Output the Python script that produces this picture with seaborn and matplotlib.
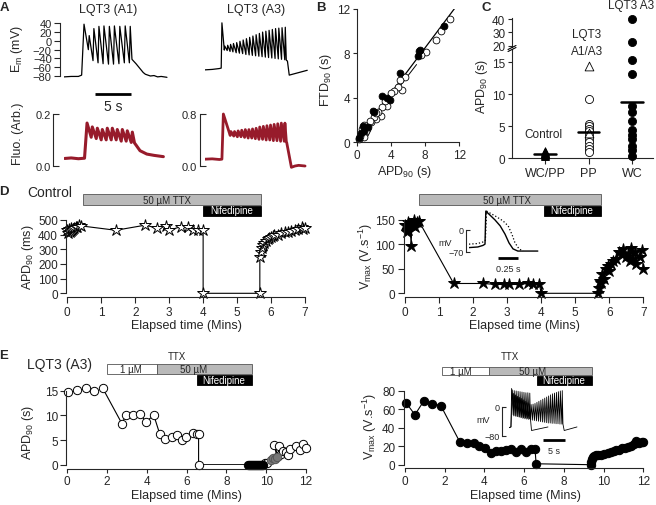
import numpy as np
import seaborn as sns
import matplotlib.pyplot as plt
from matplotlib.lines import Line2D
from matplotlib.patches import Rectangle

# ---------------- data ----------------
# A: membrane potential, LQT3 (A1)  (time s, mV)
a1_start_t = [0.0, 1.0, 2.0, 2.45]
a1_start_v = [-82, -81, -81, -78]
a1_pk_t = [2.78, 3.5, 4.15, 4.85, 5.55, 6.3, 7.0, 7.75, 8.5, 9.2]
a1_pk_v = [38, 12, 28, 33, 34, 33, 34, 33, 34, 33]
a1_tr_v = [-20, -45, -50, -52, -53, -53, -52, -50, -50, -42]
a1_end_t = [9.55, 10.0, 10.5, 11.0, 11.3, 12.0, 12.5, 13.0, 13.5, 14.3]
a1_end_v = [-44, -52, -62, -72, -76, -80, -79, -82, -81, -83]

# A: membrane potential, LQT3 (A3)
a3_start_t = [0.0, 1.0, 2.0, 2.25]
a3_start_v = [-66, -65, -63, -62]
a3_pk_t = [2.35, 2.75, 3.15, 3.55, 3.95, 4.4, 4.85, 5.3, 5.75, 6.2, 6.65,
           7.1, 7.55, 8.0, 8.45, 8.9, 9.35, 9.8, 10.25, 10.7, 11.15]
a3_pk_v = [41, -12, -10, -8, -6, -4, -1, 2, 5, 8, 11, 14, 17, 20, 22, 24,
           26, 28, 29, 30, 31]
a3_tr_v = [-21, -22, -24, -25, -27, -28, -29, -31, -32, -33, -34, -35, -36,
           -37, -38, -39, -40, -41, -42, -43, -44]
a3_end_t = [11.45, 11.7, 14.2]
a3_end_v = [-46, -78, -67]

# A: fluorescence
f1_start_t = [0.1, 1.0, 2.0, 2.85]
f1_start_v = [0.028, 0.030, 0.027, 0.029]
f1_pk_t = [3.2, 3.93, 4.63, 5.32, 6.01, 6.71, 7.4, 8.1, 8.79, 9.49]
f1_pk_v = [0.165, 0.15, 0.145, 0.14, 0.145, 0.145, 0.14, 0.14, 0.135, 0.13]
f1_tr_v = [0.11, 0.105, 0.1, 0.1, 0.1, 0.1, 0.095, 0.095, 0.09, 0.088]
f1_end_t = [10.0, 10.56, 11.5, 12.5, 13.8]
f1_end_v = [0.08, 0.058, 0.045, 0.04, 0.035]

f3_start_t = [0.0, 1.0, 2.0, 2.35]
f3_start_v = [0.105, 0.11, 0.1, 0.105]
f3_pk_t = [2.55, 3.6, 4.1, 4.6, 5.1, 5.6, 6.1, 6.6, 7.1, 7.6, 8.1, 8.6,
           9.1, 9.6, 10.1, 10.6, 11.1]
f3_pk_v = [0.8, 0.53, 0.53, 0.54, 0.55, 0.56, 0.56, 0.57, 0.58, 0.6, 0.61,
           0.62, 0.63, 0.64, 0.65, 0.66, 0.66]
f3_tr_v = [0.47, 0.46, 0.45, 0.45, 0.44, 0.43, 0.43, 0.42, 0.41, 0.41, 0.40,
           0.40, 0.39, 0.39, 0.38, 0.38, 0.37]
f3_end_t = [11.35, 12.0, 12.5, 13.0, 13.9]
f3_end_v = [0.36, -0.02, 0.0, 0.01, 0.0]

# B: APD90 vs FTD90 (s)
b_fill_x = [10.2, 7.2, 7.3, 7.4, 5.1, 3.0, 3.5, 1.9, 2.0, 1.3, 0.9, 0.5, 0.3, 0.7, 3.9]
b_fill_y = [10.5, 7.8, 8.2, 8.3, 6.2, 4.2, 4.0, 2.8, 2.7, 1.4, 1.0, 0.8, 0.4, 1.5, 3.8]
b_open_x = [10.9, 9.9, 9.3, 8.1, 7.5, 5.7, 5.3, 5.1, 4.8, 4.4, 4.0, 3.6, 3.3, 3.0,
            2.8, 2.5, 2.3, 2.0, 1.7, 1.5, 1.2, 1.0, 0.8, 0.6, 0.4, 0.3, 0.9, 1.1, 2.2]
b_open_y = [11.1, 10.0, 9.2, 8.1, 7.9, 5.9, 4.7, 5.6, 5.0, 4.6, 4.4, 3.3, 3.7, 3.2,
            2.4, 2.7, 2.1, 2.3, 1.8, 1.9, 1.2, 0.8, 0.5, 1.2, 0.6, 0.3, 1.6, 1.0, 2.6]
b_fit1_x = [0.0, 11.5]
b_fit1_y = [0.3, 12.1]
b_fit2_x = [0.0, 7.0]
b_fit2_y = [0.0, 7.0]

# C: APD90 by recording mode (s)
c_groups = ['WC/PP', 'PP', 'WC']
c_ctrl = [0.3, 0.5, 0.6, 0.7, 0.8, 0.9, 1.0, 1.2, 0.4, 0.6]
c_pp_circ = [9.3, 5.4, 5.0, 4.6, 4.3, 3.7, 3.0, 2.6, 2.0, 1.5, 1.0]
c_pp_tri = [14.5, 4.0]
c_wc = [40, 23, 15.3, 13.2, 8.2, 7.2, 5.8, 4.5, 3.6, 3.0, 1.9, 1.3, 0.4]
c_means = [0.65, 4.05, 8.75]

# D: control, elapsed time (min)
d_apd_t = [0.0, 0.02, 0.05, 0.08, 0.1, 0.12, 0.15, 0.18, 0.2, 0.25, 0.3, 0.35, 0.4,
           1.43, 2.3, 2.63, 2.9, 3.0, 3.35, 3.55, 3.7, 3.85, 4.0, 4.0, 5.67, 5.67,
           5.7, 5.72, 5.75, 5.8, 5.85, 5.9, 5.95, 6.0, 6.05, 6.1, 6.2, 6.3, 6.4,
           6.5, 6.6, 6.7, 6.8, 6.9, 6.95, 7.0]
d_apd_v = [430, 410, 440, 420, 425, 445, 430, 440, 445, 450, 455, 465, 460,
           430, 465, 445, 460, 430, 455, 450, 435, 430, 435, 0, 0, 245,
           280, 310, 330, 345, 360, 370, 375, 385, 390, 395, 400, 410, 415,
           420, 425, 430, 440, 450, 440, 445]
d_vmax_t = [0.0, 0.05, 0.08, 0.1, 0.15, 0.18, 0.2, 0.25, 0.3, 0.35, 0.4,
            1.43, 2.3, 2.65, 2.9, 3.05, 3.35, 3.6, 3.75, 3.95, 4.0, 5.67,
            5.7, 5.72, 5.75, 5.8, 5.85, 5.9, 5.95, 6.0, 6.05, 6.1, 6.2, 6.3,
            6.35, 6.4, 6.5, 6.55, 6.6, 6.65, 6.7, 6.75, 6.8, 6.9, 6.95, 7.0]
d_vmax_v = [140, 125, 145, 130, 140, 97, 140, 150, 135, 145, 148,
            20, 20, 18, 18, 18, 18, 20, 18, 18, 0, 0,
            10, 25, 20, 40, 30, 50, 55, 45, 60, 65, 70, 85,
            80, 90, 75, 80, 65, 93, 70, 85, 60, 75, 88, 50]
d_ttx = [0.45, 5.69]
d_nif = [4.0, 5.69]
d_ttx_r = [0.42, 5.75]
d_nif_r = [4.07, 5.75]
# D inset (s, mV)
di_solid_t = [0, 0.11, 0.175, 0.2, 0.21, 0.26, 0.325, 0.39, 0.45, 0.5, 0.55, 0.61, 0.86]
di_solid_v = [-56, -54, -49, -45, 60, 48, 32, 13, -13, -41, -60, -67, -67]
di_dot_t = [0, 0.11, 0.19, 0.205, 0.22, 0.325, 0.425, 0.49, 0.54, 0.575, 0.625, 0.675]
di_dot_v = [-45, -43, -37, -32, 60, 45, 29, 13, -16, -41, -60, -67]

# E: LQT3 (A3)
e_apd_t = [0.05, 0.47, 0.94, 1.36, 1.78, 2.75, 2.95, 3.3, 3.65, 3.95, 4.35,
           4.65, 4.9, 5.25, 5.5, 5.75, 5.95, 6.3, 6.5, 6.6, 6.6]
e_apd_v = [14.7, 15.2, 15.5, 14.9, 15.5, 8.3, 10.1, 10.0, 10.3, 8.7, 10.0,
           6.2, 5.3, 5.7, 6.0, 5.1, 5.7, 6.5, 6.3, 6.3, 0.0]
e_blk_t = [9.1, 9.15, 9.2, 9.25, 9.3, 9.35, 9.4, 9.45, 9.5, 9.55, 9.6, 9.65,
           9.7, 9.75, 9.8, 9.85]
e_blk_v = [0.0] * 16
e_gry_t = [10.25, 10.35, 10.45, 10.55]
e_gry_v = [1.0, 1.3, 1.2, 1.5]
e_rec_t = [9.95, 10.05, 10.4, 10.6, 10.65, 10.75, 10.85, 11.0, 11.1, 11.2,
           11.5, 11.7, 11.85, 12.0]
e_rec_v = [0.3, 0.4, 4.0, 1.8, 3.8, 2.2, 2.8, 2.5, 2.0, 3.1, 3.8, 3.0, 4.2, 3.3]
e_vmax_t = [0.05, 0.5, 0.95, 1.35, 1.8, 2.75, 3.1, 3.45, 3.75, 4.05, 4.35,
            4.6, 4.85, 5.1, 5.35, 5.6, 5.85, 6.1, 6.35, 6.55, 6.6, 9.35,
            9.37, 9.4, 9.45, 9.5, 9.6, 9.7, 9.85, 10.0, 10.2, 10.35, 10.5,
            10.65, 10.8, 10.95, 11.1, 11.25, 11.4, 11.55, 11.65, 11.8, 11.95, 12.0]
e_vmax_v = [67, 54, 69, 66, 64, 25, 23, 24, 20, 18, 13,
            15, 15, 16, 17, 14, 17, 14, 17, 17, 1, 0,
            3, 6, 8, 9, 10, 11, 11, 12, 13, 14, 15,
            16, 16, 18, 18, 19, 20, 22, 26, 24, 25, 25]
e_ttx1 = [1.98, 4.49]
e_ttx50 = [4.49, 9.27]
e_nif = [6.5, 9.27]
e_ttx1_r = [1.85, 4.24]
e_ttx50_r = [4.24, 9.4]
e_nif_r = [6.63, 9.4]
# E inset (s, mV): long and short sweeps
ei_start_t = [0.0, 0.45]
ei_start_v = [-58, -56]
ei_long_pk_t = [0.6, 1.05, 1.5, 1.95, 2.4, 2.85, 3.3, 3.75, 4.2, 4.65, 5.1, 5.55,
                6.0, 6.45, 6.9, 7.35, 7.8, 8.25, 8.7, 9.15, 9.6, 10.05, 10.5,
                10.95, 11.4, 11.85, 12.3]
ei_long_pk_v = [52, 38, 34, 30, 27, 24, 20, 16, 12, 9, 7, 8, 10, 13, 16, 19,
                22, 25, 28, 31, 34, 37, 39, 41, 43, 45, 46]
ei_long_tr_v = [-22, -24, -26, -28, -30, -32, -33, -34, -35, -36, -37, -38,
                -39, -40, -41, -42, -43, -44, -45, -45, -46, -46, -47, -47,
                -48, -48, -48]
ei_long_end_t = [12.75, 15.7]
ei_long_end_v = [-66, -56]
ei_short_pk_t = [0.75, 1.2, 1.65, 2.1, 2.55, 3.0, 3.45, 3.9, 4.35, 4.8]
ei_short_pk_v = [48, 46, 45, 44, 43, 42, 41, 40, 40, 39]
ei_short_tr_v = [-25, -26, -27, -28, -29, -30, -31, -32, -33, -34]
ei_short_end_t = [5.2, 9.0]
ei_short_end_v = [-66, -56]

# ---------------- figure setup ----------------
sns.set_style("ticks")
plt.rcParams['font.family'] = ['Liberation Sans', 'DejaVu Sans']
plt.rcParams['mathtext.default'] = 'regular'
plt.rcParams['axes.linewidth'] = 0.8
plt.rcParams['xtick.major.width'] = 0.8
plt.rcParams['ytick.major.width'] = 0.8

W, H = 656, 506
fig = plt.figure(figsize=(W / 100, H / 100), dpi=100)
PT = 0.72  # points per pixel
TICK = 8.5


def px(v, m):
    v0, p0, v1, p1 = m
    return p0 + (v - v0) * (p1 - p0) / (v1 - v0)


def make_ax(xm, ym, xlim, ylim):
    l, r = px(xlim[0], xm), px(xlim[1], xm)
    b, t = px(ylim[0], ym), px(ylim[1], ym)
    ax = fig.add_axes([l / W, 1 - b / H, (r - l) / W, (b - t) / H])
    ax.set_xlim(xlim)
    ax.set_ylim(ylim)
    ax.patch.set_visible(False)
    return ax


def style(ax, left=0, bottom=0, show_bottom=True, tsize=TICK):
    sns.despine(ax=ax, top=True, right=True, bottom=not show_bottom)
    ax.spines['left'].set_position(('outward', left * PT))
    ax.spines['bottom'].set_position(('outward', bottom * PT))
    ax.tick_params(direction='out', length=4, labelsize=tsize, pad=2)
    if not show_bottom:
        ax.set_xticks([])


def ftext(x, y, s, **kw):
    kw.setdefault('ha', 'center')
    kw.setdefault('va', 'center')
    fig.text(x / W, 1 - y / H, s, **kw)


def fline(xs, ys, **kw):
    fig.add_artist(Line2D([x / W for x in xs], [1 - y / H for y in ys], **kw))


def frect(x0, x1, y0, y1, fc, ec='#555555'):
    fig.add_artist(Rectangle((x0 / W, 1 - y1 / H), (x1 - x0) / W, (y1 - y0) / H,
                             facecolor=fc, edgecolor=ec, linewidth=0.6))


def trace(st, sv, pt, pv, tv, et, ev, rise=0.1):
    t, v = list(st), list(sv)
    for i in range(len(pt)):
        t.append(pt[i]); v.append(pv[i])
        nxt = pt[i + 1] - rise if i + 1 < len(pt) else pt[i] + 2 * rise
        t.append(nxt); v.append(tv[i])
    return t + list(et), v + list(ev)


def draw(ax, t, v, **kw):
    sns.lineplot(x=t, y=v, sort=False, estimator=None, ax=ax, **kw)


# ---------------- A ----------------
ym_em = (-80, 77, 40, 24.3)
xm_a1 = (0, 64, 1, 71.2)
xm_a3 = (0, 205, 1, 212.2)
ax = make_ax(xm_a1, ym_em, (0, 14.4), (-86, 44))
style(ax, left=4, show_bottom=False, tsize=8)
ax.spines['left'].set_bounds(-80, 40)
ax.set_yticks(range(-80, 41, 20))
t, v = trace(a1_start_t, a1_start_v, a1_pk_t, a1_pk_v, a1_tr_v, a1_end_t, a1_end_v, 0.12)
draw(ax, t, v, color='k', linewidth=0.9)
ax.plot([4.3, 9.3], [-120, -120], color='k', lw=2, clip_on=False, solid_capstyle='butt')
ftext(113, 107, '5 s', fontsize=10)

ax = make_ax(xm_a3, ym_em, (0, 14.4), (-86, 44))
ax.axis('off')
t, v = trace(a3_start_t, a3_start_v, a3_pk_t, a3_pk_v, a3_tr_v, a3_end_t, a3_end_v, 0.07)
draw(ax, t, v, color='k', linewidth=0.9)

fred = '#971b2b'
ax = make_ax(xm_a1, (0, 166.7, 0.2, 115), (0, 14.4), (-0.01, 0.21))
style(ax, left=10.7, show_bottom=False, tsize=8)
ax.spines['left'].set_bounds(0, 0.2)
ax.set_yticks([0, 0.2], ['0.0', '0.2'])
ax.tick_params(axis='y', direction='in', length=4.5)
t, v = trace(f1_start_t, f1_start_v, f1_pk_t, f1_pk_v, f1_tr_v, f1_end_t, f1_end_v, 0.15)
draw(ax, t, v, color=fred, linewidth=2.2)

ax = make_ax(xm_a3, (0, 167, 0.8, 115), (0, 14.4), (-0.05, 0.85))
style(ax, left=5, show_bottom=False, tsize=8)
ax.spines['left'].set_bounds(0, 0.8)
ax.set_yticks([0, 0.8], ['0.0', '0.8'])
ax.tick_params(axis='y', direction='in', length=4.5)
t, v = trace(f3_start_t, f3_start_v, f3_pk_t, f3_pk_v, f3_tr_v, f3_end_t, f3_end_v, 0.1)
draw(ax, t, v, color=fred, linewidth=2.0)

ftext(108, 10, 'LQT3 (A1)', fontsize=9)
ftext(256, 10, 'LQT3 (A3)', fontsize=9)
ftext(17, 49, 'E$_m$ (mV)', fontsize=9, rotation=90)
ftext(18, 134, 'Fluo. (Arb.)', fontsize=9, rotation=90)

# ---------------- B ----------------
ax = make_ax((0, 356.7, 12, 459.3), (0, 143.3, 12, 10), (0, 12), (0, 12))
style(ax)
ax.tick_params(length=3, pad=1.5)
ax.set_xticks([0, 4, 8, 12])
ax.set_yticks([0, 4, 8, 12])
draw(ax, b_fit1_x, b_fit1_y, color='k', linewidth=0.9)
draw(ax, b_fit2_x, b_fit2_y, color='k', linewidth=0.7)
sns.scatterplot(x=b_open_x, y=b_open_y, s=24, color='white', edgecolor='k',
                linewidth=0.6, ax=ax, clip_on=False, zorder=3)
sns.scatterplot(x=b_fill_x, y=b_fill_y, s=24, color='k', edgecolor='k',
                linewidth=0.6, ax=ax, clip_on=False, zorder=4)
ftext(405, 172, 'APD$_{90}$ (s)', fontsize=9)
ftext(326, 80, 'FTD$_{90}$ (s)', fontsize=9, rotation=90)

# ---------------- C ----------------
xm_c = (0, 545, 2, 632)
ax_lo = make_ax(xm_c, (0, 159.3, 15, 63.3), (-0.77, 2.48), (0, 17.1))
ax_hi = make_ax(xm_c, (20, 46.7, 40, 20), (-0.77, 2.48), (19, 40.5))
style(ax_lo)
style(ax_hi, show_bottom=False)
ax_lo.set_xticks([0, 1, 2], c_groups)
ax_lo.set_yticks([0, 5, 10, 15])
ax_hi.set_yticks([20, 30, 40])
ax_lo.tick_params(axis='x', labelsize=9)
for a in (ax_lo, ax_hi):
    a.tick_params(axis='y', length=3, pad=1.5)
series = [(0, c_ctrl, '^', 30, 'k'), (1, c_pp_circ, 'o', 34, 'white'),
          (1, c_pp_tri, '^', 40, 'white'), (2, c_wc, 'o', 34, 'k')]
for xi, vals, mk, sz, fc in series:
    lo = [v for v in vals if v < 18]
    hi = [v for v in vals if v >= 18]
    for a, part in ((ax_lo, lo), (ax_hi, hi)):
        if part:
            sns.scatterplot(x=[xi] * len(part), y=part, marker=mk, s=sz, color=fc,
                            edgecolor='k', linewidth=0.6, ax=a, clip_on=False, zorder=3)
ax_hi.set_ylim(19, 40.5)
ax_lo.set_ylim(0, 17.1)
for i, m in enumerate(c_means):
    ax_lo.plot([i - 0.25, i + 0.25], [m, m], color='k', lw=1.8, zorder=5)
fline([508, 516], [50.5, 46.5], color='k', lw=0.8)
fline([508, 516], [52.5, 48.5], color='k', lw=0.8)
frect(509.5, 514.5, 48.6, 50.4, 'white', ec='none')
ftext(482, 86, 'APD$_{90}$ (s)', fontsize=9, rotation=90)
ftext(543, 135, 'Control', fontsize=8.5)
ftext(587, 35, 'LQT3', fontsize=8.5)
ftext(587, 52, 'A1/A3', fontsize=8.5)
ftext(631, 6, 'LQT3 A3', fontsize=8.5)

# ---------------- D ----------------
xm_dl = (0, 67.3, 7, 305)
ax = make_ax(xm_dl, (0, 294.3, 500, 221), (0, 7), (0, 500))
style(ax, left=1, bottom=4)
ax.set_xticks(range(8))
ax.set_yticks(range(0, 501, 100))
draw(ax, d_apd_t, d_apd_v, color='k', linewidth=0.8, marker='*',
     markersize=9, markerfacecolor='white', markeredgecolor='k',
     markeredgewidth=0.7, clip_on=False)
frect(px(d_ttx[0], xm_dl), px(d_ttx[1], xm_dl), 195, 205.5, '#b9b9b9')
frect(px(d_nif[0], xm_dl), px(d_nif[1], xm_dl), 206.5, 216.5, 'k', ec='k')
ftext(167, 200.5, '50 \u00b5M TTX', fontsize=7)
ftext(px((d_nif[0] + d_nif[1]) / 2, xm_dl), 211.5, 'Nifedipine', fontsize=7, color='white')
ftext(186, 326, 'Elapsed time (Mins)', fontsize=9)
ftext(28, 257, 'APD$_{90}$ (ms)', fontsize=9, rotation=90)

xm_dr = (0, 405, 7, 643.3)
ax = make_ax(xm_dr, (0, 294.3, 150, 220.7), (0, 7), (0, 150))
style(ax, left=1.5, bottom=4)
ax.set_xticks(range(8))
ax.set_yticks([0, 50, 100, 150])
draw(ax, d_vmax_t, d_vmax_v, color='k', linewidth=0.8, marker='*',
     markersize=9, markerfacecolor='k', markeredgecolor='k',
     markeredgewidth=0.7, clip_on=False)
frect(px(d_ttx_r[0], xm_dr), px(d_ttx_r[1], xm_dr), 195, 205.5, '#b9b9b9')
frect(px(d_nif_r[0], xm_dr), px(d_nif_r[1], xm_dr), 206.5, 216.5, 'k', ec='k')
ftext(507, 200.5, '50 \u00b5M TTX', fontsize=7)
ftext(px((d_nif_r[0] + d_nif_r[1]) / 2, xm_dr), 211.5, 'Nifedipine', fontsize=7, color='white')
ftext(524, 326, 'Elapsed time (Mins)', fontsize=9)
ftext(366, 257, 'V$_{max}$ (V.s$^{-1}$)', fontsize=9, rotation=90)

# D inset
ax = make_ax((0, 469, 1, 549), (0, 231, -70, 253), (0, 0.87), (-95, 65))
style(ax, left=3.5, show_bottom=False, tsize=6.5)
ax.spines['left'].set_bounds(-70, 0)
ax.set_yticks([-70, 0])
ax.tick_params(axis='y', direction='in', length=3, pad=1.5)
draw(ax, di_solid_t, di_solid_v, color='k', linewidth=1.0)
draw(ax, di_dot_t, di_dot_v, color='k', linewidth=0.9, linestyle=':')
ax.plot([0.3625, 0.6125], [-89, -89], color='k', lw=2, clip_on=False, solid_capstyle='butt')
ftext(445, 243, 'mV', fontsize=6.5)
ftext(508, 269, '0.25 s', fontsize=6.5)

# ---------------- E ----------------
xm_el = (0, 67.3, 12, 306)
ax = make_ax(xm_el, (0, 465.7, 15, 391.7), (0, 12), (0, 15))
style(ax, left=1, bottom=4)
ax.tick_params(axis='x', length=3, pad=1.5)
ax.set_xticks(range(0, 13, 2))
ax.set_yticks([0, 5, 10, 15])
all_t = e_apd_t + e_blk_t + e_rec_t[:2] + e_gry_t + e_rec_t[2:]
all_v = e_apd_v + e_blk_v + e_rec_v[:2] + e_gry_v + e_rec_v[2:]
draw(ax, all_t, all_v, color='k', linewidth=0.8)
mk = dict(marker='o', markersize=6, markeredgewidth=0.7, linestyle='none', clip_on=False)
draw(ax, e_apd_t, e_apd_v, color='k', markerfacecolor='white', markeredgecolor='k', **mk)
draw(ax, e_rec_t, e_rec_v, color='k', markerfacecolor='white', markeredgecolor='k', **mk)
draw(ax, e_blk_t, e_blk_v, color='k', markerfacecolor='k', markeredgecolor='k', **mk)
draw(ax, e_gry_t, e_gry_v, color='k', markerfacecolor='#777777', markeredgecolor='#555555', **mk)
frect(px(e_ttx1[0], xm_el), px(e_ttx1[1], xm_el), 365, 375, 'white')
frect(px(e_ttx50[0], xm_el), px(e_ttx50[1], xm_el), 365, 375, '#b9b9b9')
frect(px(e_nif[0], xm_el), px(e_nif[1], xm_el), 376, 385.5, 'k', ec='k')
ftext(177, 357, 'TTX', fontsize=7)
ftext(131, 370, '1 \u00b5M', fontsize=7)
ftext(194, 370, '50 \u00b5M', fontsize=7)
ftext(px((e_nif[0] + e_nif[1]) / 2, xm_el), 381, 'Nifedipine', fontsize=7, color='white')
ftext(186, 496, 'Elapsed time (Mins)', fontsize=9)
ftext(28, 432, 'APD$_{90}$ (s)', fontsize=9, rotation=90)

xm_er = (0, 405, 12, 643.3)
ax = make_ax(xm_er, (0, 465.7, 80, 391.7), (0, 12), (0, 80))
style(ax, left=1.5, bottom=3.6)
ax.tick_params(axis='x', length=3, pad=1.5)
ax.set_xticks(range(0, 13, 2))
ax.set_yticks(range(0, 81, 20))
draw(ax, e_vmax_t, e_vmax_v, color='k', linewidth=0.8, marker='o',
     markersize=6, markerfacecolor='k', markeredgecolor='k', clip_on=False)
frect(px(e_ttx1_r[0], xm_er), px(e_ttx1_r[1], xm_er), 368, 376, 'white')
frect(px(e_ttx50_r[0], xm_er), px(e_ttx50_r[1], xm_er), 368, 376, '#b9b9b9')
frect(px(e_nif_r[0], xm_er), px(e_nif_r[1], xm_er), 376.7, 386, 'k', ec='k')
ftext(510, 357, 'TTX', fontsize=7)
ftext(461, 372, '1 \u00b5M', fontsize=7)
ftext(533, 372, '50 \u00b5M', fontsize=7)
ftext(px((e_nif_r[0] + e_nif_r[1]) / 2, xm_er), 381.5, 'Nifedipine', fontsize=7, color='white')
ftext(525, 496, 'Elapsed time (Mins)', fontsize=9)
ftext(370, 427, 'V$_{max}$ (V.s$^{-1}$)', fontsize=9, rotation=90)

# E inset
ax = make_ax((0, 509, 1, 513.33), (0, 408, -80, 436.5), (0, 16), (-100, 60))
style(ax, left=7, show_bottom=False, tsize=6.5)
ax.spines['left'].set_bounds(-80, 0)
ax.set_yticks([-80, 0])
ax.tick_params(axis='y', direction='in', length=3, pad=1.5)
t, v = trace(ei_start_t, ei_start_v, ei_short_pk_t, ei_short_pk_v, ei_short_tr_v,
             ei_short_end_t, ei_short_end_v, 0.08)
draw(ax, t, v, color='k', linewidth=0.6)
t, v = trace(ei_start_t, ei_start_v, ei_long_pk_t, ei_long_pk_v, ei_long_tr_v,
             ei_long_end_t, ei_long_end_v, 0.08)
draw(ax, t, v, color='k', linewidth=0.6)
ax.plot([7.85, 12.85], [-92.6, -92.6], color='k', lw=2, clip_on=False, solid_capstyle='butt')
ftext(483, 421, 'mV', fontsize=6.5)
ftext(554, 452, '5 s', fontsize=6.5)

# ---------------- panel letters ----------------
for x, y, s in [(4, 8, 'A'), (321, 8, 'B'), (486, 8, 'C'), (4, 192, 'D'), (4, 356, 'E')]:
    ftext(x, y, s, fontsize=9.5, fontweight='bold')
ftext(27, 193, 'Control', fontsize=10, ha='left')
ftext(27, 365, 'LQT3 (A3)', fontsize=10, ha='left')

fig.savefig('out.png', dpi=100)
